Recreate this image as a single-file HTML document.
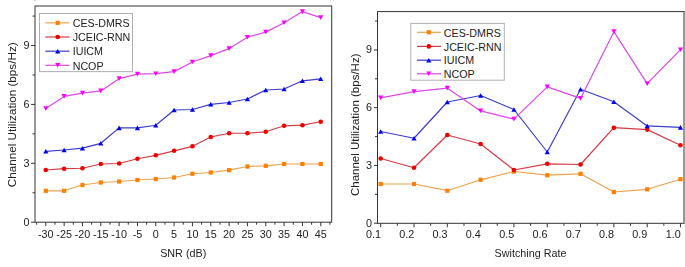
<!DOCTYPE html>
<html><head><meta charset="utf-8"><style>
html,body{margin:0;padding:0;background:#fff;}
body{width:685px;height:267px;overflow:hidden;}
svg{display:block;filter:blur(0.3px);font-family:"Liberation Sans",sans-serif;}
</style></head><body>
<svg width="685" height="267" viewBox="0 0 685 267">
<rect x="35.0" y="6.0" width="296.70" height="216.20" fill="none" stroke="#333" stroke-width="1"/>
<line x1="31.00" y1="222.20" x2="35.0" y2="222.20" stroke="#333" stroke-width="1"/>
<text transform="translate(29.50,225.70) scale(1,1.08)" font-size="10.8" fill="#222" text-anchor="end">0</text>
<line x1="31.00" y1="163.31" x2="35.0" y2="163.31" stroke="#333" stroke-width="1"/>
<text transform="translate(29.50,166.81) scale(1,1.08)" font-size="10.8" fill="#222" text-anchor="end">3</text>
<line x1="31.00" y1="104.42" x2="35.0" y2="104.42" stroke="#333" stroke-width="1"/>
<text transform="translate(29.50,107.92) scale(1,1.08)" font-size="10.8" fill="#222" text-anchor="end">6</text>
<line x1="31.00" y1="45.53" x2="35.0" y2="45.53" stroke="#333" stroke-width="1"/>
<text transform="translate(29.50,49.03) scale(1,1.08)" font-size="10.8" fill="#222" text-anchor="end">9</text>
<line x1="32.50" y1="192.75" x2="35.0" y2="192.75" stroke="#333" stroke-width="1"/>
<line x1="32.50" y1="133.87" x2="35.0" y2="133.87" stroke="#333" stroke-width="1"/>
<line x1="32.50" y1="74.97" x2="35.0" y2="74.97" stroke="#333" stroke-width="1"/>
<line x1="32.50" y1="16.09" x2="35.0" y2="16.09" stroke="#333" stroke-width="1"/>
<line x1="45.80" y1="222.2" x2="45.80" y2="226.20" stroke="#333" stroke-width="1"/>
<text transform="translate(45.80,238.00) scale(1,1.08)" font-size="10.8" fill="#222" text-anchor="middle">-30</text>
<line x1="64.13" y1="222.2" x2="64.13" y2="226.20" stroke="#333" stroke-width="1"/>
<text transform="translate(64.13,238.00) scale(1,1.08)" font-size="10.8" fill="#222" text-anchor="middle">-25</text>
<line x1="82.46" y1="222.2" x2="82.46" y2="226.20" stroke="#333" stroke-width="1"/>
<text transform="translate(82.46,238.00) scale(1,1.08)" font-size="10.8" fill="#222" text-anchor="middle">-20</text>
<line x1="100.79" y1="222.2" x2="100.79" y2="226.20" stroke="#333" stroke-width="1"/>
<text transform="translate(100.79,238.00) scale(1,1.08)" font-size="10.8" fill="#222" text-anchor="middle">-15</text>
<line x1="119.12" y1="222.2" x2="119.12" y2="226.20" stroke="#333" stroke-width="1"/>
<text transform="translate(119.12,238.00) scale(1,1.08)" font-size="10.8" fill="#222" text-anchor="middle">-10</text>
<line x1="137.45" y1="222.2" x2="137.45" y2="226.20" stroke="#333" stroke-width="1"/>
<text transform="translate(137.45,238.00) scale(1,1.08)" font-size="10.8" fill="#222" text-anchor="middle">-5</text>
<line x1="155.78" y1="222.2" x2="155.78" y2="226.20" stroke="#333" stroke-width="1"/>
<text transform="translate(155.78,238.00) scale(1,1.08)" font-size="10.8" fill="#222" text-anchor="middle">0</text>
<line x1="174.11" y1="222.2" x2="174.11" y2="226.20" stroke="#333" stroke-width="1"/>
<text transform="translate(174.11,238.00) scale(1,1.08)" font-size="10.8" fill="#222" text-anchor="middle">5</text>
<line x1="192.44" y1="222.2" x2="192.44" y2="226.20" stroke="#333" stroke-width="1"/>
<text transform="translate(192.44,238.00) scale(1,1.08)" font-size="10.8" fill="#222" text-anchor="middle">10</text>
<line x1="210.77" y1="222.2" x2="210.77" y2="226.20" stroke="#333" stroke-width="1"/>
<text transform="translate(210.77,238.00) scale(1,1.08)" font-size="10.8" fill="#222" text-anchor="middle">15</text>
<line x1="229.10" y1="222.2" x2="229.10" y2="226.20" stroke="#333" stroke-width="1"/>
<text transform="translate(229.10,238.00) scale(1,1.08)" font-size="10.8" fill="#222" text-anchor="middle">20</text>
<line x1="247.43" y1="222.2" x2="247.43" y2="226.20" stroke="#333" stroke-width="1"/>
<text transform="translate(247.43,238.00) scale(1,1.08)" font-size="10.8" fill="#222" text-anchor="middle">25</text>
<line x1="265.76" y1="222.2" x2="265.76" y2="226.20" stroke="#333" stroke-width="1"/>
<text transform="translate(265.76,238.00) scale(1,1.08)" font-size="10.8" fill="#222" text-anchor="middle">30</text>
<line x1="284.09" y1="222.2" x2="284.09" y2="226.20" stroke="#333" stroke-width="1"/>
<text transform="translate(284.09,238.00) scale(1,1.08)" font-size="10.8" fill="#222" text-anchor="middle">35</text>
<line x1="302.42" y1="222.2" x2="302.42" y2="226.20" stroke="#333" stroke-width="1"/>
<text transform="translate(302.42,238.00) scale(1,1.08)" font-size="10.8" fill="#222" text-anchor="middle">40</text>
<line x1="320.75" y1="222.2" x2="320.75" y2="226.20" stroke="#333" stroke-width="1"/>
<text transform="translate(320.75,238.00) scale(1,1.08)" font-size="10.8" fill="#222" text-anchor="middle">45</text>
<line x1="36.63" y1="222.2" x2="36.63" y2="224.70" stroke="#333" stroke-width="1"/>
<line x1="54.96" y1="222.2" x2="54.96" y2="224.70" stroke="#333" stroke-width="1"/>
<line x1="73.29" y1="222.2" x2="73.29" y2="224.70" stroke="#333" stroke-width="1"/>
<line x1="91.62" y1="222.2" x2="91.62" y2="224.70" stroke="#333" stroke-width="1"/>
<line x1="109.95" y1="222.2" x2="109.95" y2="224.70" stroke="#333" stroke-width="1"/>
<line x1="128.28" y1="222.2" x2="128.28" y2="224.70" stroke="#333" stroke-width="1"/>
<line x1="146.62" y1="222.2" x2="146.62" y2="224.70" stroke="#333" stroke-width="1"/>
<line x1="164.94" y1="222.2" x2="164.94" y2="224.70" stroke="#333" stroke-width="1"/>
<line x1="183.27" y1="222.2" x2="183.27" y2="224.70" stroke="#333" stroke-width="1"/>
<line x1="201.60" y1="222.2" x2="201.60" y2="224.70" stroke="#333" stroke-width="1"/>
<line x1="219.94" y1="222.2" x2="219.94" y2="224.70" stroke="#333" stroke-width="1"/>
<line x1="238.26" y1="222.2" x2="238.26" y2="224.70" stroke="#333" stroke-width="1"/>
<line x1="256.59" y1="222.2" x2="256.59" y2="224.70" stroke="#333" stroke-width="1"/>
<line x1="274.92" y1="222.2" x2="274.92" y2="224.70" stroke="#333" stroke-width="1"/>
<line x1="293.25" y1="222.2" x2="293.25" y2="224.70" stroke="#333" stroke-width="1"/>
<line x1="311.58" y1="222.2" x2="311.58" y2="224.70" stroke="#333" stroke-width="1"/>
<line x1="329.91" y1="222.2" x2="329.91" y2="224.70" stroke="#333" stroke-width="1"/>
<rect x="39.5" y="13.5" width="93.0" height="58.099999999999994" fill="#fff" stroke="#b0b0b0" stroke-width="1"/>
<line x1="45.3" y1="22.85" x2="69.5" y2="22.85" stroke="#eba24e" stroke-width="1.2"/>
<rect x="55.60" y="20.75" width="4.2" height="4.2" fill="#ff8000"/>
<text x="72.7" y="27.05" font-size="10.7" fill="#222">CES-DMRS</text>
<line x1="45.3" y1="37.0" x2="69.5" y2="37.0" stroke="#d43a44" stroke-width="1.2"/>
<circle cx="57.70" cy="37.00" r="2.3" fill="#ee0000"/>
<text x="72.7" y="41.20" font-size="10.7" fill="#222">JCEIC-RNN</text>
<line x1="45.3" y1="51.2" x2="69.5" y2="51.2" stroke="#3c3cca" stroke-width="1.2"/>
<polygon points="57.70,48.90 55.10,53.50 60.30,53.50" fill="#0000ee"/>
<text x="72.7" y="55.40" font-size="10.7" fill="#222">IUICM</text>
<line x1="45.3" y1="65.3" x2="69.5" y2="65.3" stroke="#dc48e4" stroke-width="1.2"/>
<polygon points="55.10,63.00 60.30,63.00 57.70,67.60" fill="#ff00ff"/>
<text x="72.7" y="69.50" font-size="10.7" fill="#222">NCOP</text>
<polyline points="45.80,190.80 64.13,190.80 82.46,185.00 100.79,182.50 119.12,181.50 137.45,180.00 155.78,179.00 174.11,177.50 192.44,173.75 210.77,172.50 229.10,170.20 247.43,166.50 265.76,165.80 284.09,164.00 302.42,164.00 320.75,164.00" fill="none" stroke="#eba24e" stroke-width="1.2" stroke-linejoin="round"/>
<rect x="43.70" y="188.70" width="4.2" height="4.2" fill="#ff8000"/>
<rect x="62.03" y="188.70" width="4.2" height="4.2" fill="#ff8000"/>
<rect x="80.36" y="182.90" width="4.2" height="4.2" fill="#ff8000"/>
<rect x="98.69" y="180.40" width="4.2" height="4.2" fill="#ff8000"/>
<rect x="117.02" y="179.40" width="4.2" height="4.2" fill="#ff8000"/>
<rect x="135.35" y="177.90" width="4.2" height="4.2" fill="#ff8000"/>
<rect x="153.68" y="176.90" width="4.2" height="4.2" fill="#ff8000"/>
<rect x="172.01" y="175.40" width="4.2" height="4.2" fill="#ff8000"/>
<rect x="190.34" y="171.65" width="4.2" height="4.2" fill="#ff8000"/>
<rect x="208.67" y="170.40" width="4.2" height="4.2" fill="#ff8000"/>
<rect x="227.00" y="168.10" width="4.2" height="4.2" fill="#ff8000"/>
<rect x="245.33" y="164.40" width="4.2" height="4.2" fill="#ff8000"/>
<rect x="263.66" y="163.70" width="4.2" height="4.2" fill="#ff8000"/>
<rect x="281.99" y="161.90" width="4.2" height="4.2" fill="#ff8000"/>
<rect x="300.32" y="161.90" width="4.2" height="4.2" fill="#ff8000"/>
<rect x="318.65" y="161.90" width="4.2" height="4.2" fill="#ff8000"/>
<polyline points="45.80,170.00 64.13,168.70 82.46,168.25 100.79,164.00 119.12,163.50 137.45,158.75 155.78,155.30 174.11,150.80 192.44,146.30 210.77,137.00 229.10,133.25 247.43,133.25 265.76,131.80 284.09,125.80 302.42,125.20 320.75,121.75" fill="none" stroke="#d43a44" stroke-width="1.2" stroke-linejoin="round"/>
<circle cx="45.80" cy="170.00" r="2.3" fill="#ee0000"/>
<circle cx="64.13" cy="168.70" r="2.3" fill="#ee0000"/>
<circle cx="82.46" cy="168.25" r="2.3" fill="#ee0000"/>
<circle cx="100.79" cy="164.00" r="2.3" fill="#ee0000"/>
<circle cx="119.12" cy="163.50" r="2.3" fill="#ee0000"/>
<circle cx="137.45" cy="158.75" r="2.3" fill="#ee0000"/>
<circle cx="155.78" cy="155.30" r="2.3" fill="#ee0000"/>
<circle cx="174.11" cy="150.80" r="2.3" fill="#ee0000"/>
<circle cx="192.44" cy="146.30" r="2.3" fill="#ee0000"/>
<circle cx="210.77" cy="137.00" r="2.3" fill="#ee0000"/>
<circle cx="229.10" cy="133.25" r="2.3" fill="#ee0000"/>
<circle cx="247.43" cy="133.25" r="2.3" fill="#ee0000"/>
<circle cx="265.76" cy="131.80" r="2.3" fill="#ee0000"/>
<circle cx="284.09" cy="125.80" r="2.3" fill="#ee0000"/>
<circle cx="302.42" cy="125.20" r="2.3" fill="#ee0000"/>
<circle cx="320.75" cy="121.75" r="2.3" fill="#ee0000"/>
<polyline points="45.80,151.30 64.13,150.00 82.46,148.20 100.79,143.30 119.12,127.90 137.45,127.90 155.78,125.25 174.11,110.00 192.44,109.50 210.77,104.30 229.10,102.50 247.43,99.00 265.76,90.00 284.09,89.00 302.42,80.80 320.75,78.80" fill="none" stroke="#3c3cca" stroke-width="1.2" stroke-linejoin="round"/>
<polygon points="45.80,149.00 43.20,153.60 48.40,153.60" fill="#0000ee"/>
<polygon points="64.13,147.70 61.53,152.30 66.73,152.30" fill="#0000ee"/>
<polygon points="82.46,145.90 79.86,150.50 85.06,150.50" fill="#0000ee"/>
<polygon points="100.79,141.00 98.19,145.60 103.39,145.60" fill="#0000ee"/>
<polygon points="119.12,125.60 116.52,130.20 121.72,130.20" fill="#0000ee"/>
<polygon points="137.45,125.60 134.85,130.20 140.05,130.20" fill="#0000ee"/>
<polygon points="155.78,122.95 153.18,127.55 158.38,127.55" fill="#0000ee"/>
<polygon points="174.11,107.70 171.51,112.30 176.71,112.30" fill="#0000ee"/>
<polygon points="192.44,107.20 189.84,111.80 195.04,111.80" fill="#0000ee"/>
<polygon points="210.77,102.00 208.17,106.60 213.37,106.60" fill="#0000ee"/>
<polygon points="229.10,100.20 226.50,104.80 231.70,104.80" fill="#0000ee"/>
<polygon points="247.43,96.70 244.83,101.30 250.03,101.30" fill="#0000ee"/>
<polygon points="265.76,87.70 263.16,92.30 268.36,92.30" fill="#0000ee"/>
<polygon points="284.09,86.70 281.49,91.30 286.69,91.30" fill="#0000ee"/>
<polygon points="302.42,78.50 299.82,83.10 305.02,83.10" fill="#0000ee"/>
<polygon points="320.75,76.50 318.15,81.10 323.35,81.10" fill="#0000ee"/>
<polyline points="45.80,108.60 64.13,96.40 82.46,93.15 100.79,90.90 119.12,78.65 137.45,74.15 155.78,73.70 174.11,71.60 192.44,62.00 210.77,55.60 229.10,48.60 247.43,37.20 265.76,32.15 284.09,22.80 302.42,11.60 320.75,17.60" fill="none" stroke="#dc48e4" stroke-width="1.2" stroke-linejoin="round"/>
<polygon points="43.20,106.30 48.40,106.30 45.80,110.90" fill="#ff00ff"/>
<polygon points="61.53,94.10 66.73,94.10 64.13,98.70" fill="#ff00ff"/>
<polygon points="79.86,90.85 85.06,90.85 82.46,95.45" fill="#ff00ff"/>
<polygon points="98.19,88.60 103.39,88.60 100.79,93.20" fill="#ff00ff"/>
<polygon points="116.52,76.35 121.72,76.35 119.12,80.95" fill="#ff00ff"/>
<polygon points="134.85,71.85 140.05,71.85 137.45,76.45" fill="#ff00ff"/>
<polygon points="153.18,71.40 158.38,71.40 155.78,76.00" fill="#ff00ff"/>
<polygon points="171.51,69.30 176.71,69.30 174.11,73.90" fill="#ff00ff"/>
<polygon points="189.84,59.70 195.04,59.70 192.44,64.30" fill="#ff00ff"/>
<polygon points="208.17,53.30 213.37,53.30 210.77,57.90" fill="#ff00ff"/>
<polygon points="226.50,46.30 231.70,46.30 229.10,50.90" fill="#ff00ff"/>
<polygon points="244.83,34.90 250.03,34.90 247.43,39.50" fill="#ff00ff"/>
<polygon points="263.16,29.85 268.36,29.85 265.76,34.45" fill="#ff00ff"/>
<polygon points="281.49,20.50 286.69,20.50 284.09,25.10" fill="#ff00ff"/>
<polygon points="299.82,9.30 305.02,9.30 302.42,13.90" fill="#ff00ff"/>
<polygon points="318.15,15.30 323.35,15.30 320.75,19.90" fill="#ff00ff"/>
<text transform="translate(183.20,256.60) scale(1,1.06)" font-size="10.8" fill="#222" text-anchor="middle">SNR (dB)</text>
<text transform="translate(15.7,114.8) rotate(-90)" x="0" y="0" font-size="11.7" fill="#222" text-anchor="middle">Channel Utilization (bps/Hz)</text>
<rect x="377.5" y="11.6" width="306.50" height="211.70" fill="none" stroke="#333" stroke-width="1"/>
<line x1="374.00" y1="223.20" x2="377.5" y2="223.20" stroke="#333" stroke-width="1"/>
<text transform="translate(372.00,226.70) scale(1,1.08)" font-size="10.8" fill="#222" text-anchor="end">0</text>
<line x1="374.00" y1="165.45" x2="377.5" y2="165.45" stroke="#333" stroke-width="1"/>
<text transform="translate(372.00,168.95) scale(1,1.08)" font-size="10.8" fill="#222" text-anchor="end">3</text>
<line x1="374.00" y1="107.70" x2="377.5" y2="107.70" stroke="#333" stroke-width="1"/>
<text transform="translate(372.00,111.20) scale(1,1.08)" font-size="10.8" fill="#222" text-anchor="end">6</text>
<line x1="374.00" y1="49.95" x2="377.5" y2="49.95" stroke="#333" stroke-width="1"/>
<text transform="translate(372.00,53.45) scale(1,1.08)" font-size="10.8" fill="#222" text-anchor="end">9</text>
<line x1="375.00" y1="194.32" x2="377.5" y2="194.32" stroke="#333" stroke-width="1"/>
<line x1="375.00" y1="136.57" x2="377.5" y2="136.57" stroke="#333" stroke-width="1"/>
<line x1="375.00" y1="78.82" x2="377.5" y2="78.82" stroke="#333" stroke-width="1"/>
<line x1="375.00" y1="21.07" x2="377.5" y2="21.07" stroke="#333" stroke-width="1"/>
<line x1="380.70" y1="223.3" x2="380.70" y2="227.30" stroke="#333" stroke-width="1"/>
<text transform="translate(380.90,238.40) scale(1,1.08)" font-size="10.8" fill="#222" text-anchor="end">0.1</text>
<line x1="414.01" y1="223.3" x2="414.01" y2="227.30" stroke="#333" stroke-width="1"/>
<text transform="translate(414.21,238.40) scale(1,1.08)" font-size="10.8" fill="#222" text-anchor="end">0.2</text>
<line x1="447.32" y1="223.3" x2="447.32" y2="227.30" stroke="#333" stroke-width="1"/>
<text transform="translate(447.52,238.40) scale(1,1.08)" font-size="10.8" fill="#222" text-anchor="end">0.3</text>
<line x1="480.63" y1="223.3" x2="480.63" y2="227.30" stroke="#333" stroke-width="1"/>
<text transform="translate(480.83,238.40) scale(1,1.08)" font-size="10.8" fill="#222" text-anchor="end">0.4</text>
<line x1="513.94" y1="223.3" x2="513.94" y2="227.30" stroke="#333" stroke-width="1"/>
<text transform="translate(514.14,238.40) scale(1,1.08)" font-size="10.8" fill="#222" text-anchor="end">0.5</text>
<line x1="547.25" y1="223.3" x2="547.25" y2="227.30" stroke="#333" stroke-width="1"/>
<text transform="translate(547.45,238.40) scale(1,1.08)" font-size="10.8" fill="#222" text-anchor="end">0.6</text>
<line x1="580.56" y1="223.3" x2="580.56" y2="227.30" stroke="#333" stroke-width="1"/>
<text transform="translate(580.76,238.40) scale(1,1.08)" font-size="10.8" fill="#222" text-anchor="end">0.7</text>
<line x1="613.87" y1="223.3" x2="613.87" y2="227.30" stroke="#333" stroke-width="1"/>
<text transform="translate(614.07,238.40) scale(1,1.08)" font-size="10.8" fill="#222" text-anchor="end">0.8</text>
<line x1="647.18" y1="223.3" x2="647.18" y2="227.30" stroke="#333" stroke-width="1"/>
<text transform="translate(647.38,238.40) scale(1,1.08)" font-size="10.8" fill="#222" text-anchor="end">0.9</text>
<line x1="680.49" y1="223.3" x2="680.49" y2="227.30" stroke="#333" stroke-width="1"/>
<text transform="translate(680.69,238.40) scale(1,1.08)" font-size="10.8" fill="#222" text-anchor="end">1.0</text>
<line x1="397.36" y1="223.3" x2="397.36" y2="225.80" stroke="#333" stroke-width="1"/>
<line x1="430.66" y1="223.3" x2="430.66" y2="225.80" stroke="#333" stroke-width="1"/>
<line x1="463.98" y1="223.3" x2="463.98" y2="225.80" stroke="#333" stroke-width="1"/>
<line x1="497.28" y1="223.3" x2="497.28" y2="225.80" stroke="#333" stroke-width="1"/>
<line x1="530.60" y1="223.3" x2="530.60" y2="225.80" stroke="#333" stroke-width="1"/>
<line x1="563.90" y1="223.3" x2="563.90" y2="225.80" stroke="#333" stroke-width="1"/>
<line x1="597.22" y1="223.3" x2="597.22" y2="225.80" stroke="#333" stroke-width="1"/>
<line x1="630.52" y1="223.3" x2="630.52" y2="225.80" stroke="#333" stroke-width="1"/>
<line x1="663.84" y1="223.3" x2="663.84" y2="225.80" stroke="#333" stroke-width="1"/>
<rect x="410.8" y="23.4" width="93.5" height="56.800000000000004" fill="#fff" stroke="#b0b0b0" stroke-width="1"/>
<line x1="417" y1="32.3" x2="441" y2="32.3" stroke="#eba24e" stroke-width="1.2"/>
<rect x="426.70" y="30.20" width="4.2" height="4.2" fill="#ff8000"/>
<text x="443.8" y="36.50" font-size="10.7" fill="#222">CES-DMRS</text>
<line x1="417" y1="46.4" x2="441" y2="46.4" stroke="#d43a44" stroke-width="1.2"/>
<circle cx="428.80" cy="46.40" r="2.3" fill="#ee0000"/>
<text x="443.8" y="50.60" font-size="10.7" fill="#222">JCEIC-RNN</text>
<line x1="417" y1="60.2" x2="441" y2="60.2" stroke="#3c3cca" stroke-width="1.2"/>
<polygon points="428.80,57.90 426.20,62.50 431.40,62.50" fill="#0000ee"/>
<text x="443.8" y="64.40" font-size="10.7" fill="#222">IUICM</text>
<line x1="417" y1="73.8" x2="441" y2="73.8" stroke="#dc48e4" stroke-width="1.2"/>
<polygon points="426.20,71.50 431.40,71.50 428.80,76.10" fill="#ff00ff"/>
<text x="443.8" y="78.00" font-size="10.7" fill="#222">NCOP</text>
<polyline points="380.70,184.00 414.01,184.00 447.32,190.70 480.63,179.80 513.94,171.50 547.25,175.20 580.56,173.80 613.87,192.00 647.18,189.30 680.49,179.20" fill="none" stroke="#eba24e" stroke-width="1.2" stroke-linejoin="round"/>
<rect x="378.60" y="181.90" width="4.2" height="4.2" fill="#ff8000"/>
<rect x="411.91" y="181.90" width="4.2" height="4.2" fill="#ff8000"/>
<rect x="445.22" y="188.60" width="4.2" height="4.2" fill="#ff8000"/>
<rect x="478.53" y="177.70" width="4.2" height="4.2" fill="#ff8000"/>
<rect x="511.84" y="169.40" width="4.2" height="4.2" fill="#ff8000"/>
<rect x="545.15" y="173.10" width="4.2" height="4.2" fill="#ff8000"/>
<rect x="578.46" y="171.70" width="4.2" height="4.2" fill="#ff8000"/>
<rect x="611.77" y="189.90" width="4.2" height="4.2" fill="#ff8000"/>
<rect x="645.08" y="187.20" width="4.2" height="4.2" fill="#ff8000"/>
<rect x="678.39" y="177.10" width="4.2" height="4.2" fill="#ff8000"/>
<polyline points="380.70,158.50 414.01,167.75 447.32,135.00 480.63,144.00 513.94,170.00 547.25,163.80 580.56,164.50 613.87,127.70 647.18,129.60 680.49,145.20" fill="none" stroke="#d43a44" stroke-width="1.2" stroke-linejoin="round"/>
<circle cx="380.70" cy="158.50" r="2.3" fill="#ee0000"/>
<circle cx="414.01" cy="167.75" r="2.3" fill="#ee0000"/>
<circle cx="447.32" cy="135.00" r="2.3" fill="#ee0000"/>
<circle cx="480.63" cy="144.00" r="2.3" fill="#ee0000"/>
<circle cx="513.94" cy="170.00" r="2.3" fill="#ee0000"/>
<circle cx="547.25" cy="163.80" r="2.3" fill="#ee0000"/>
<circle cx="580.56" cy="164.50" r="2.3" fill="#ee0000"/>
<circle cx="613.87" cy="127.70" r="2.3" fill="#ee0000"/>
<circle cx="647.18" cy="129.60" r="2.3" fill="#ee0000"/>
<circle cx="680.49" cy="145.20" r="2.3" fill="#ee0000"/>
<polyline points="380.70,131.50 414.01,138.25 447.32,102.00 480.63,95.50 513.94,109.50 547.25,152.00 580.56,89.25 613.87,101.80 647.18,125.90 680.49,127.40" fill="none" stroke="#3c3cca" stroke-width="1.2" stroke-linejoin="round"/>
<polygon points="380.70,129.20 378.10,133.80 383.30,133.80" fill="#0000ee"/>
<polygon points="414.01,135.95 411.41,140.55 416.61,140.55" fill="#0000ee"/>
<polygon points="447.32,99.70 444.72,104.30 449.92,104.30" fill="#0000ee"/>
<polygon points="480.63,93.20 478.03,97.80 483.23,97.80" fill="#0000ee"/>
<polygon points="513.94,107.20 511.34,111.80 516.54,111.80" fill="#0000ee"/>
<polygon points="547.25,149.70 544.65,154.30 549.85,154.30" fill="#0000ee"/>
<polygon points="580.56,86.95 577.96,91.55 583.16,91.55" fill="#0000ee"/>
<polygon points="613.87,99.50 611.27,104.10 616.47,104.10" fill="#0000ee"/>
<polygon points="647.18,123.60 644.58,128.20 649.78,128.20" fill="#0000ee"/>
<polygon points="680.49,125.10 677.89,129.70 683.09,129.70" fill="#0000ee"/>
<polyline points="380.70,97.90 414.01,91.65 447.32,88.15 480.63,110.90 513.94,119.10 547.25,86.90 580.56,98.40 613.87,31.65 647.18,83.60 680.49,49.70" fill="none" stroke="#dc48e4" stroke-width="1.2" stroke-linejoin="round"/>
<polygon points="378.10,95.60 383.30,95.60 380.70,100.20" fill="#ff00ff"/>
<polygon points="411.41,89.35 416.61,89.35 414.01,93.95" fill="#ff00ff"/>
<polygon points="444.72,85.85 449.92,85.85 447.32,90.45" fill="#ff00ff"/>
<polygon points="478.03,108.60 483.23,108.60 480.63,113.20" fill="#ff00ff"/>
<polygon points="511.34,116.80 516.54,116.80 513.94,121.40" fill="#ff00ff"/>
<polygon points="544.65,84.60 549.85,84.60 547.25,89.20" fill="#ff00ff"/>
<polygon points="577.96,96.10 583.16,96.10 580.56,100.70" fill="#ff00ff"/>
<polygon points="611.27,29.35 616.47,29.35 613.87,33.95" fill="#ff00ff"/>
<polygon points="644.58,81.30 649.78,81.30 647.18,85.90" fill="#ff00ff"/>
<polygon points="677.89,47.40 683.09,47.40 680.49,52.00" fill="#ff00ff"/>
<text transform="translate(530.50,257.00) scale(1,1.06)" font-size="10.8" fill="#222" text-anchor="middle">Switching Rate</text>
<text transform="translate(358.9,124.8) rotate(-90)" x="0" y="0" font-size="11.5" fill="#222" text-anchor="middle">Channel Utilization (bps/Hz)</text>
<rect x="34.3" y="0" width="1.2" height="1" fill="#bbb"/>
<rect x="330" y="0" width="1" height="0.8" fill="#ccc"/>
<rect x="333.2" y="0" width="1" height="0.8" fill="#ccc"/>
</svg>
</body></html>
